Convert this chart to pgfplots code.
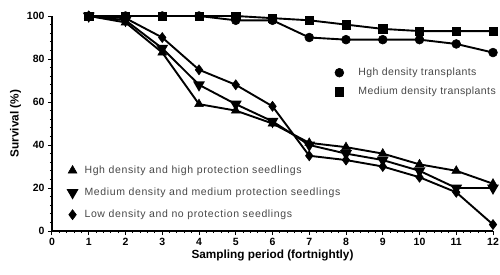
\documentclass[border=0pt]{standalone}
\usepackage{pgfplots}
\pgfplotsset{compat=1.18}
\usepackage{fontspec}
\setmainfont{Liberation Sans}
\begin{document}
\begin{tikzpicture}
\pgfplotsset{
  common/.style={
    scale only axis, width=441pt, height=215pt,
    xmin=0, xmax=12, ymin=0, ymax=100,
  },
  ser/.style={black, line width=1.9pt, mark options={solid, fill=black, line width=0.6pt}},
}
\begin{axis}[common, name=main,
  axis lines*=left, axis line style={line width=1.6pt},
  tick align=outside, tick style={black, line width=1pt},
  major tick length=4pt, minor tick length=2pt,
  xtick={0,1,...,12}, ytick={0,20,...,100},
  minor x tick num=4, minor y tick num=4,
  tick label style={font=\bfseries\fontsize{10.5}{12}\selectfont},
  /pgf/number format/assume math mode=true,
  xlabel={\bfseries Sampling period (fortnightly)},
  ylabel={\bfseries Survival (\%)},
  label style={font=\bfseries\fontsize{11.8}{13}\selectfont},
  xlabel style={yshift=3pt},
  ylabel style={yshift=-1pt},
  legend image code/.code={\draw[#1, only marks] plot coordinates {(0.3cm,0cm)}; \path[draw=none,fill=none] (0cm,0cm) (0.3cm+17pt,0cm);},
  legend style={draw=none, fill=none, at={(0.625,0.777)}, anchor=north west,
    font=\fontsize{10.5}{11}\selectfont\addfontfeature{LetterSpace=4}, text=black!72, row sep=6pt,
    legend cell align=left},
  clip=false,
]
\addplot[ser, mark=*, mark size=4.4pt] coordinates {
(1,100)(2,100)(3,100)(4,100)(5,98)(6,98)(7,90)(8,89)(9,89)(10,89)(11,87)(12,83)};
\addlegendentry{Hgh density transplants}
\addplot[ser, mark=square*, mark size=4.2pt] coordinates {
(1,100)(2,100)(3,100)(4,100)(5,100)(6,99)(7,98)(8,96)(9,94)(10,93)(11,93)(12,93)};
\addlegendentry{Medium density transplants}
\addplot[ser, mark=triangle*, mark size=5pt, forget plot] coordinates {
(1,100)(2,97)(3,83)(4,59)(5,56)(6,50)(7,41)(8,39)(9,36)(10,31)(11,28)(12,22)};
\addplot[ser, mark=triangle*, mark size=5pt, mark options={rotate=180}, forget plot] coordinates {
(1,100)(2,98)(3,85)(4,68)(5,59)(6,51)(7,40)(8,36)(9,33)(10,28)(11,20)(12,20)};
\addplot[ser, mark=diamond*, mark size=5pt, forget plot] coordinates {
(1,100)(2,99)(3,90)(4,75)(5,68)(6,58)(7,35)(8,33)(9,30)(10,25)(11,18)(12,3)};
\end{axis}
\begin{axis}[common, hide axis,
  legend image code/.code={\draw[#1, only marks] plot coordinates {(0.3cm,0cm)}; \path[draw=none,fill=none] (0cm,0cm) (0.3cm+10pt,0cm);},
  legend style={draw=none, fill=none, at={(0.02,0.322)}, anchor=north west,
    font=\fontsize{10.5}{11}\selectfont\addfontfeature{LetterSpace=6}, text=black!72, row sep=9pt,
    legend cell align=left},
]
\addlegendimage{ser, mark=triangle*, mark size=5pt}
\addlegendentry{Hgh density and high protection seedlings}
\addlegendimage{ser, mark=triangle*, mark size=5pt, mark options={rotate=180}}
\addlegendentry{Medium density and medium protection seedlings}
\addlegendimage{ser, mark=diamond*, mark size=5pt}
\addlegendentry{Low density and no protection seedlings}
\end{axis}
\pgfresetboundingbox
\path[use as bounding box] ([shift={(-52pt,-43pt)}]main.south west) rectangle ++(500pt,274pt);
\end{tikzpicture}
\end{document}
